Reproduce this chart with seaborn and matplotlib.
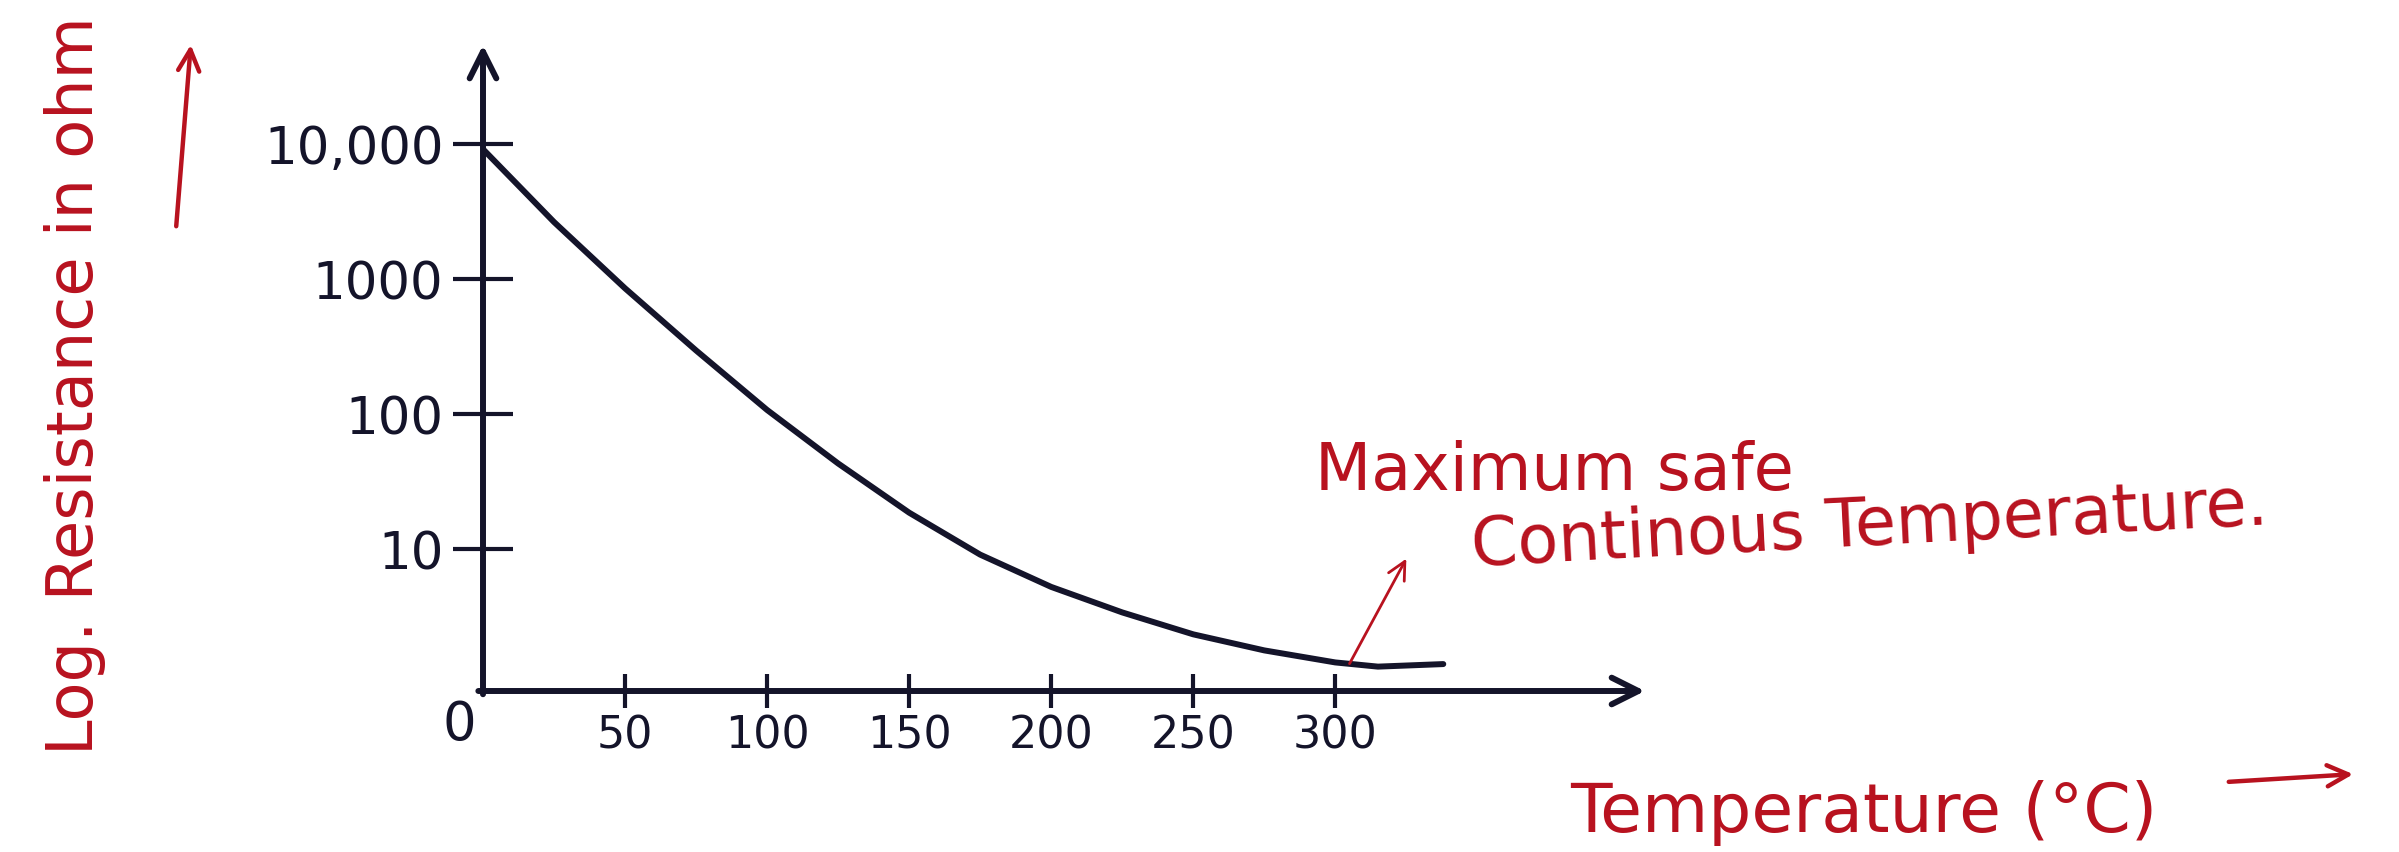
import matplotlib
matplotlib.use("Agg")
import matplotlib.pyplot as plt
from matplotlib.patches import FancyArrowPatch
import pandas as pd
import seaborn as sns

# Resistance of the thermistor against temperature
temperature_c = [0, 25, 50, 75, 100, 125, 150, 175, 200, 225, 250, 275, 300,
                 315, 338]
resistance_ohm = [9100, 2630, 850, 295, 107, 43, 18.6, 9.1, 5.25, 3.4, 2.34,
                  1.78, 1.45, 1.35, 1.41]

x_ticks = [50, 100, 150, 200, 250, 300]
x_tick_labels = ["50", "100", "150", "200", "250", "300"]
origin_label = "0"
y_ticks = [10, 100, 1000, 10000]
y_tick_labels = ["10", "100", "1000", "10,000"]

x_label = "Temperature (°C)"
y_label = "Log. Resistance in ohm"
note_lines = ["Maximum safe", "Continous Temperature."]
note_point = (305, 1.42)     # point on the curve the note refers to
note_arrow_tip = (325, 8.5)

ink = "#14142a"
red = "#b8121f"

sns.set_theme(style="white")
plt.rcParams["font.family"] = ["DejaVu Sans"]

W, H = 2399, 853
fig = plt.figure(figsize=(W / 100, H / 100), dpi=100)
fig.patch.set_facecolor("white")
ax = fig.add_axes([483 / W, 1 - 692 / H, 1162 / W, (692 - 46) / H])
ax.set_facecolor("white")

df = pd.DataFrame({"Temperature": temperature_c, "Resistance": resistance_ohm})
sns.lineplot(data=df, x="Temperature", y="Resistance", ax=ax,
             color=ink, linewidth=4.3, sort=False,
             solid_joinstyle="round", solid_capstyle="round")

ax.set_yscale("log")
ax.set_xlim(0, 409)
ax.set_ylim(10 ** -0.05, 10 ** 4.73)

# axes drawn as arrows instead of spines
for s in ax.spines.values():
    s.set_visible(False)
axis_arrow = dict(arrowstyle="->", lw=4.3, color=ink, mutation_scale=48,
                  shrinkA=0, shrinkB=0)
ax.annotate("", xy=(1.0, 0.0), xytext=(-0.004, 0.0), xycoords="axes fraction",
            arrowprops=axis_arrow)
ax.annotate("", xy=(0.0, 1.0), xytext=(0.0, -0.005), xycoords="axes fraction",
            arrowprops=axis_arrow)

ax.set_xticks(x_ticks)
ax.set_xticklabels(x_tick_labels)
ax.set_yticks(y_ticks)
ax.set_yticklabels(y_tick_labels)
ax.minorticks_off()
ax.tick_params(axis="x", direction="inout", length=25, width=3, color=ink,
               labelsize=32, labelcolor=ink, pad=4, bottom=True)
ax.tick_params(axis="y", direction="inout", length=43, width=3, color=ink,
               labelsize=37, labelcolor=ink, pad=7, left=True)
ax.annotate(origin_label, xy=(0, 0), xycoords=("data", "axes fraction"),
            xytext=(-17, -5), textcoords="offset points", ha="center", va="top",
            fontsize=38, color=ink)

ax.set_xlabel("")
ax.set_ylabel("")

# axis titles in red with their arrows
fig.text(75 / W, 1 - 755 / H, y_label, rotation=90, ha="center", va="bottom",
         fontsize=46, color=red)
fig.patches.append(FancyArrowPatch(
    (176 / W, 1 - 230 / H), (191 / W, 1 - 43 / H),
    transform=fig.transFigure, arrowstyle="->", mutation_scale=38,
    lw=3.2, color=red))

fig.text(1570 / W, 1 - 832 / H, x_label, ha="left", va="baseline",
         fontsize=49, color=red)
fig.patches.append(FancyArrowPatch(
    (2226 / W, 1 - 783 / H), (2356 / W, 1 - 775 / H),
    transform=fig.transFigure, arrowstyle="->", mutation_scale=38,
    lw=3.2, color=red))

# note on the maximum safe continuous temperature
fig.text(1315 / W, 1 - 490 / H, note_lines[0], ha="left", va="baseline",
         fontsize=47, color=red)
fig.text(1472 / W, 1 - 566 / H, note_lines[1], ha="left", va="baseline",
         rotation=3, rotation_mode="anchor", fontsize=48, color=red)
ax.annotate("", xy=note_arrow_tip, xytext=note_point,
            arrowprops=dict(arrowstyle="->", lw=2.0, color=red, mutation_scale=32,
                            shrinkA=0, shrinkB=0), annotation_clip=False)

fig.savefig("out.png", dpi=100, facecolor="white")
